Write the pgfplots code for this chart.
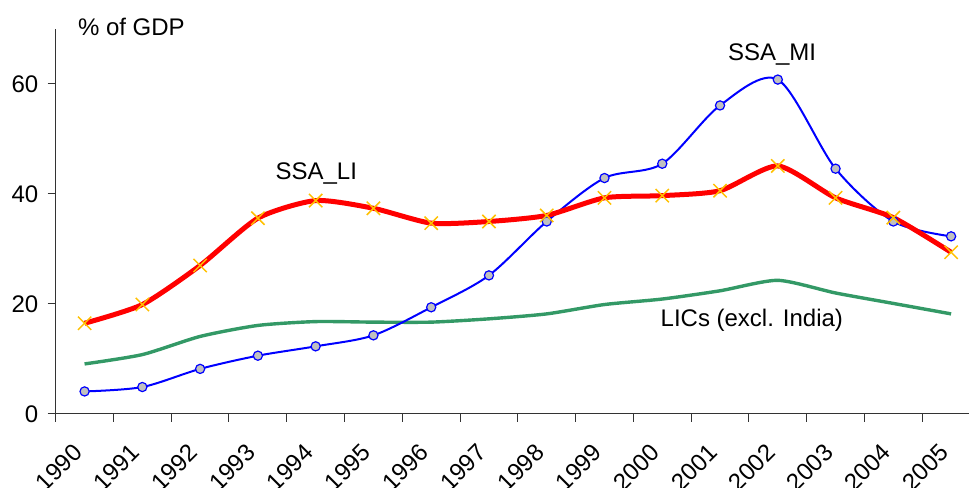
\documentclass[border=0pt]{standalone}
\usepackage{pgfplots}
\pgfplotsset{compat=1.18}
\usepackage{fontspec}
\setmainfont{Liberation Sans}
\usetikzlibrary{calc}
\definecolor{licgreen}{HTML}{339966}
\definecolor{markgold}{HTML}{FFC000}
\definecolor{markgray}{HTML}{C0C0C0}
\newcommand{\lblfont}{\fontsize{12}{14}\selectfont}
\begin{document}
\begin{tikzpicture}
\begin{axis}[
  scale only axis, width=456.65pt, height=192.5pt,
  at={(0,0)}, anchor=south west,
  xmin=1990, xmax=2005.81, ymin=0, ymax=70,
  axis x line*=bottom, axis y line*=left,
  axis line style={draw=black!80, line width=0.5pt},
  ytick={0,20,40,60},
  xtick={1990,...,2005},
  xticklabels={1990,1991,1992,1993,1994,1995,1996,1997,1998,1999,2000,2001,2002,2003,2004,2005},
  tick align=outside,
  major tick length=4pt,
  tick style={draw=black!80, line width=0.5pt},
  ticklabel style={font=\lblfont},
  /pgf/number format/assume math mode=true,
  yticklabel style={anchor=east, inner sep=0pt, xshift=-4.5pt},
  xticklabel style={xshift=8pt, yshift=-10pt, rotate=45, anchor=north east, inner sep=0pt},
  clip=false,
]
% LICs (excl. India)
\addplot[licgreen, line width=1.7pt, smooth, tension=0.4, mark=none] coordinates {
(1990.5,9.1) (1991.5,10.8) (1992.5,14.1) (1993.5,16.1) (1994.5,16.8) (1995.5,16.7)
(1996.5,16.7) (1997.5,17.3) (1998.5,18.2) (1999.5,19.9) (2000.5,20.9) (2001.5,22.4)
(2002.5,24.3) (2003.5,22.0) (2004.5,20.1) (2005.5,18.2)};
% SSA_MI
\addplot[blue, line width=1pt, smooth, tension=0.5, mark=*,
  mark options={fill=markgray, draw=blue, line width=0.6pt}, mark size=2.3pt] coordinates {
(1990.5,4.1) (1991.5,4.9) (1992.5,8.2) (1993.5,10.6) (1994.5,12.3) (1995.5,14.3)
(1996.5,19.4) (1997.5,25.2) (1998.5,35.0) (1999.5,42.9) (2000.5,45.5) (2001.5,56.1)
(2002.5,60.8) (2003.5,44.6) (2004.5,35.0) (2005.5,32.3)};
% SSA_LI
\addplot[red, line width=2.5pt, smooth, tension=0.4, mark=x,
  mark options={draw=markgold, line width=0.75pt, solid}, mark size=4.7pt] coordinates {
(1990.5,16.5) (1991.5,19.9) (1992.5,27.0) (1993.5,35.6) (1994.5,38.8) (1995.5,37.4)
(1996.5,34.7) (1997.5,35.0) (1998.5,36.1) (1999.5,39.3) (2000.5,39.7) (2001.5,40.6)
(2002.5,45.1) (2003.5,39.3) (2004.5,35.7) (2005.5,29.4)};
\node[font=\lblfont] at (axis cs:1991.31,70.4) {\% of GDP};
\node[font=\lblfont] at (axis cs:1994.51,43.8) {SSA\_LI};
\node[font=\lblfont] at (axis cs:2002.40,65.3) {SSA\_MI};
\node[font=\lblfont] at (axis cs:2002.05,17.0) {LICs (excl. India)};
\coordinate (bl) at (rel axis cs:0,0);
\coordinate (tr) at (rel axis cs:1,1);
\end{axis}
\pgfresetboundingbox
\path[use as bounding box] ($(bl)+(-27.85pt,-37pt)$) rectangle ($(tr)+(0pt,14.5pt)$);
\end{tikzpicture}
\end{document}
